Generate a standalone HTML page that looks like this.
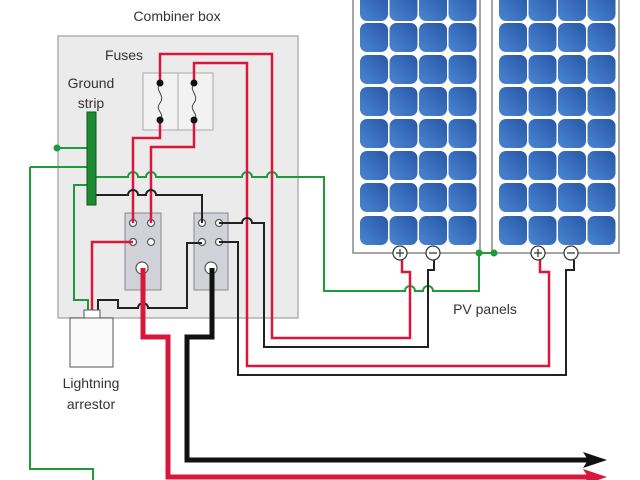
<!DOCTYPE html>
<html><head><meta charset="utf-8"><style>
html,body{margin:0;padding:0;background:#fff;}
svg{display:block;font-family:"Liberation Sans",sans-serif;}
</style></head><body>
<svg width="640" height="480" viewBox="0 0 640 480" xmlns="http://www.w3.org/2000/svg">
<defs>
<linearGradient id="cg" x1="0" y1="1" x2="1" y2="0">
<stop offset="0" stop-color="#4a86d0"/><stop offset="1" stop-color="#2857a8"/>
</linearGradient>
<g id="panel">
<rect x="0" y="-5" width="127" height="258" fill="#fff" stroke="#888" stroke-width="1.5"/>
<g fill="url(#cg)">
<g id="row">
<rect x="7" y="0" width="28" height="29" rx="7"/>
<rect x="36.5" y="0" width="28" height="29" rx="7"/>
<rect x="66" y="0" width="28" height="29" rx="7"/>
<rect x="95.5" y="0" width="28" height="29" rx="7"/>
</g>
</g>
</g>
</defs>
<text x="177" y="21" font-size="14" text-anchor="middle" fill="#333">Combiner box</text>
<rect x="58" y="36" width="240" height="282" fill="#ebebeb" stroke="#b0b0b0" stroke-width="1.5"/>
<text x="124" y="60" font-size="14" text-anchor="middle" fill="#333">Fuses</text>
<text x="91" y="88" font-size="14" text-anchor="middle" fill="#333">Ground</text>
<text x="91" y="108" font-size="14" text-anchor="middle" fill="#333">strip</text>
<text x="485" y="314" font-size="14" text-anchor="middle" fill="#333">PV panels</text>
<text x="91" y="388" font-size="14" text-anchor="middle" fill="#333">Lightning</text>
<text x="91" y="409" font-size="14" text-anchor="middle" fill="#333">arrestor</text>

<!-- panels -->
<g transform="translate(353,0)">
<rect x="0" y="-5" width="127" height="258" fill="#fff" stroke="#888" stroke-width="1.5"/>
<g fill="url(#cg)">
<use href="#row" y="-8"/><use href="#row" y="23"/><use href="#row" y="55"/><use href="#row" y="87"/>
<use href="#row" y="119"/><use href="#row" y="151"/><use href="#row" y="183"/><use href="#row" y="216"/>
</g>
</g>
<g transform="translate(492,0)">
<rect x="0" y="-5" width="127" height="258" fill="#fff" stroke="#888" stroke-width="1.5"/>
<g fill="url(#cg)">
<use href="#row" y="-8"/><use href="#row" y="23"/><use href="#row" y="55"/><use href="#row" y="87"/>
<use href="#row" y="119"/><use href="#row" y="151"/><use href="#row" y="183"/><use href="#row" y="216"/>
</g>
</g>

<!-- fuses -->
<rect x="143" y="73" width="35" height="57" fill="#f2f2f2" stroke="#aaa"/>
<rect x="178" y="73" width="35" height="57" fill="#f2f2f2" stroke="#aaa"/>
<path d="M160 83 c-6 8 6 12 0 20 c-6 8 6 10 0 17 M194 83 c-6 8 6 12 0 20 c-6 8 6 10 0 17" fill="none" stroke="#444" stroke-width="1"/>
<!-- terminal blocks -->
<rect x="125" y="213" width="36" height="77" fill="#d0d2d8" stroke="#888"/>
<rect x="194" y="213" width="34" height="77" fill="#d0d2d8" stroke="#888"/>
<g fill="#fff" stroke="#555" stroke-width="1.2">
<circle cx="133" cy="223" r="3.5"/><circle cx="151" cy="223" r="3.5"/><circle cx="133" cy="242" r="3.5"/><circle cx="151" cy="242" r="3.5"/>
<circle cx="202" cy="223" r="3.5"/><circle cx="219" cy="223" r="3.5"/><circle cx="202" cy="242" r="3.5"/><circle cx="219" cy="242" r="3.5"/>
<circle cx="142" cy="268" r="6"/><circle cx="211" cy="268" r="6"/>
</g>

<g fill="none" stroke-linejoin="miter">
<!-- green -->
<g stroke="#1f9a3a" stroke-width="2">
<path d="M96 177 H128 a5 5 0 0 1 10 0 H146 a5 5 0 0 1 10 0 H242 a5 5 0 0 1 10 0 H267 a5 5 0 0 1 10 0 H324 V291 H405 a5 5 0 0 1 10 0 H423 a5 5 0 0 1 10 0 H479 V253 H494"/>
<path d="M57 148 H88"/>
<path d="M30 167 H88 M30 167 V469 H93 V480"/>
<path d="M88 185 H74 V300 H88 V310"/>
</g>
<!-- red thin -->
<g stroke="#d7173c" stroke-width="2.5">
<path d="M160 83 V54 H272 V338 H410 V272 H402 V260"/>
<path d="M194 83 V63 H247 V366 H549 V272 H540 V260"/>
<path d="M160 120 V138 H133 V223"/>
<path d="M194 120 V147 H151 V223"/>
<path d="M133 242 H92 V310"/>
</g>
<!-- black thin -->
<g stroke="#222" stroke-width="2">
<path d="M96 195 H128 a5 5 0 0 1 10 0 H146 a5 5 0 0 1 10 0 H202 V223"/>
<path d="M219 223 H242 a5 5 0 0 1 10 0 H264 V347 H428 V270 H434 V260"/>
<path d="M219 242 H238 V375 H566 V270 H574 V260"/>
<path d="M98 310 V300 H118 V308 H138 a5 5 0 0 1 10 0 H187 V243 H202"/>
</g>
<!-- thick -->
<path d="M143 268 V337 H168 V477 H592" stroke="#d7173c" stroke-width="5"/>
<path d="M212 268 V337 H187 V460 H592" stroke="#111" stroke-width="5"/>
</g>
<polygon points="583,452 607,460 583,468 588,460" fill="#111"/>
<polygon points="583,469 607,477 583,485 588,477" fill="#d7173c"/>

<!-- ground strip -->
<rect x="87" y="112" width="9" height="93" fill="#1f8a34" stroke="#0c5a1c"/>
<!-- arrestor -->
<rect x="84" y="310" width="16" height="8" fill="#fff" stroke="#555"/>
<rect x="70" y="318" width="43" height="49" fill="#fafafa" stroke="#555"/>

<!-- dots -->
<g fill="#111">
<circle cx="160" cy="83" r="3.5"/><circle cx="160" cy="120" r="3.5"/><circle cx="194" cy="83" r="3.5"/><circle cx="194" cy="120" r="3.5"/>
</g>
<g fill="#1f9a3a"><circle cx="57" cy="148" r="3.5"/><circle cx="479" cy="253" r="3.5"/><circle cx="494" cy="253" r="3.5"/></g>
<!-- terminals -->
<g fill="#fff" stroke="#333" stroke-width="1.2">
<circle cx="400" cy="253" r="7"/><circle cx="433" cy="253" r="7"/><circle cx="538" cy="253" r="7"/><circle cx="571" cy="253" r="7"/>
</g>
<g stroke="#333" stroke-width="1.2">
<path d="M396 253 H404 M400 249 V257 M429 253 H437 M534 253 H542 M538 249 V257 M567 253 H575"/>
</g>
</svg>
</body></html>
